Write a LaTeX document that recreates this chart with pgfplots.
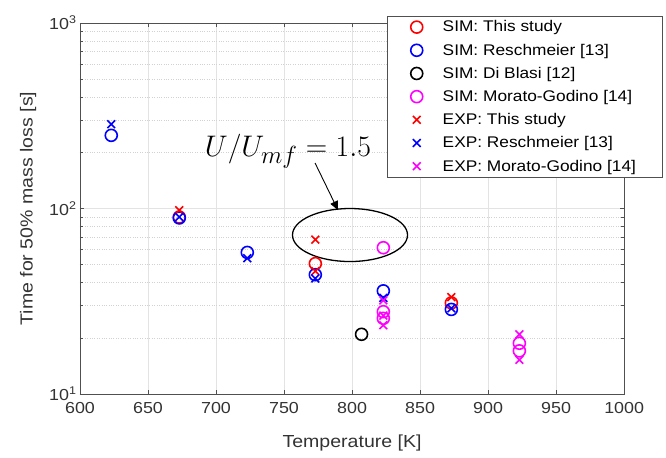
\documentclass[border=0pt]{standalone}
\usepackage{pgfplots}
\pgfplotsset{compat=1.18}
\usepackage{graphicx}
\usepackage{fontspec}
\setmainfont[FakeStretch=1.12]{Liberation Sans}
\usetikzlibrary{arrows.meta}
\definecolor{mgn}{RGB}{255,0,255}
\definecolor{axgr}{RGB}{80,80,80}

\pgfplotsset{
  simo/.style={only marks,#1,mark=o,mark size=6bp,line width=1.6pt},
  expx/.style={only marks,#1,mark=x,mark size=5.5bp,line width=1.6pt},
}
\newcommand{\legent}[1]{#1\hspace{-19bp}}

\begin{document}
\begin{tikzpicture}
\begin{axis}[
  width=544bp,height=371bp,scale only axis,
  xmin=600,xmax=1000,ymode=log,ymin=10,ymax=1000,
  xtick={600,650,...,1000},
  ytick={10,100,1000},
  yticklabels={10\textsuperscript{1},10\textsuperscript{2},10\textsuperscript{3}},
  grid=both,
  major grid style={gray!22,line width=0.6pt},
  minor grid style={gray!35,dotted,line width=0.6pt},
  tick align=inside,
  tick style={axgr,line width=0.5pt},
  axis line style={axgr,line width=0.6pt},
  /pgf/number format/assume math mode=true,
  /pgf/number format/1000 sep={},
  ticklabel style={font=\fontsize{16}{18}\selectfont,text=black!80},
  xticklabel style={yshift=-5bp},
  label style={font=\fontsize{17.5}{20}\selectfont,text=black!80},
  xlabel={Temperature [K]},
  ylabel={Time for 50\% mass loss [s]},
  xlabel style={yshift=-14bp},
  ylabel style={yshift=6bp},
  legend style={at={(1.07,1.02)},anchor=north east,draw=axgr,fill=white,
    font=\fontsize{15.5}{18}\selectfont,row sep=6.5bp,column sep=18bp,
    inner xsep=24bp,inner ysep=3bp},
  legend cell align=left,
  clip=false,
]
\addplot[simo=red] coordinates {(673,90)(773,50.5)(873,31)};
\addlegendentry{\legent{SIM: This study}}
\addplot[simo=blue] coordinates {(623,248)(673,89)(723,58)(773,44)(823,36)(873,28.6)};
\addlegendentry{\legent{SIM: Reschmeier [13]}}
\addplot[simo=black] coordinates {(807,21)};
\addlegendentry{\legent{SIM: Di Blasi [12]}}
\addplot[simo=mgn] coordinates {(823,61.5)(823,27.8)(823,25.6)(923,18.8)(923,17.1)};
\addlegendentry{\legent{SIM: Morato-Godino [14]}}
\addplot[expx=red] coordinates {(673,98)(773,68)(773,46)(873,33.3)};
\addlegendentry{\legent{EXP: This study}}
\addplot[expx=blue] coordinates {(623,285)(673,90)(723,54)(773,42)(823,33)(873,29)};
\addlegendentry{\legent{EXP: Reschmeier [13]}}
\addplot[expx=mgn] coordinates {(823,32)(823,26.5)(823,23.5)(923,21)(923,15.3)};
\addlegendentry{\legent{EXP: Morato-Godino [14]}}

% annotation
\draw[line width=1.3pt] (axis cs:798.5,72) ellipse [x radius=57.5bp,y radius=26.5bp];
\node at (axis cs:752.9,204) {\scalebox{1.2}{\Huge $U/U_{mf} = 1.5$}};
\draw[line width=0.9pt,-{Triangle[length=9bp,width=8bp]}] (axis cs:772.8,176) -- (axis cs:789.7,98);

% page extent
\path (rel axis cs:-0.147,1.062) rectangle (rel axis cs:1.077,-0.170);
\end{axis}
\end{tikzpicture}
\end{document}
